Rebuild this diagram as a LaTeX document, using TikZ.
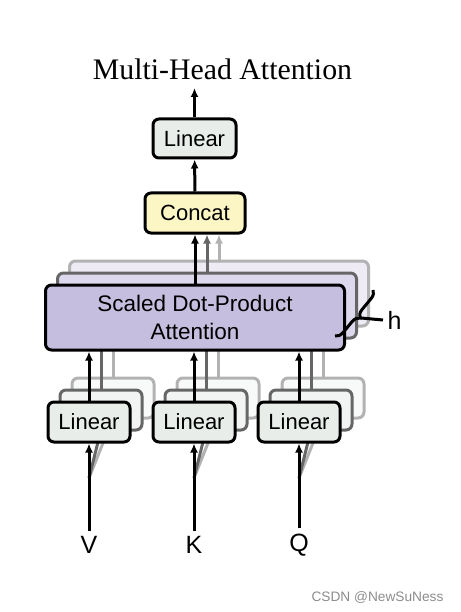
\documentclass[tikz,border=0pt]{standalone}
\usepackage{fontspec}
\setmainfont{Liberation Serif}
\setsansfont{Liberation Sans}
\usetikzlibrary{arrows.meta,decorations.pathreplacing}
\definecolor{lincol}{HTML}{E8EDEA}
\definecolor{catcol}{HTML}{FCF5C4}
\definecolor{sdpcol}{HTML}{C6BEDF}

\begin{document}
\begin{tikzpicture}[x=1pt, y=-1pt, line width=3pt, >={Latex[length=9pt,width=8pt]},
  box/.style = {draw, rounded corners=6pt, inner sep=0pt, align=center, font=\sffamily\fontsize{22}{27}\selectfont},
  lin/.style = {box, minimum width=82pt, minimum height=40pt, fill=lincol},
  sdp/.style = {box, minimum width=299pt, minimum height=65pt, fill=sdpcol, font=\sffamily\fontsize{22.5}{28}\selectfont},
  lbl/.style = {font=\sffamily\fontsize{25}{30}\selectfont, inner sep=4pt}]
\useasboundingbox (0,0) rectangle (460,612);
\node[font=\rmfamily\fontsize{29.8}{35}\selectfont] (title) at (222.5,69) {Multi-Head Attention};
\coordinate (out) at (194.5,88);
\node[lin, minimum width=83pt, minimum height=39pt] (lin) at (194.5,138.5) {Linear};
\node[box, fill=catcol, minimum width=100pt, minimum height=40pt] (concat) at (195,213) {Concat};
\draw[->] (lin) -- (out);
\draw[->] (concat) -- (lin);
% the h heads, back ones first
\foreach \n/\x in {V/89,K/194,Q/299} \coordinate (f\n) at (\x,478);
\foreach \k/\c in {2/30,1/60}{
  \begin{scope}[shift={(12*\k,-12*\k)}, black!\c]
    \node[sdp, fill=sdpcol!\c] (sdpa\k) at (195,317.5) {};
    \draw[->] (sdpa\k.north) -- (sdpa\k.north |- concat.south);
    \foreach \n/\x in {V/89,K/194,Q/299}{
      \draw[->] (f\n) -- (\x,442);
      \node[lin, fill=lincol!\c] (lin\n\k) at (\x,422) {};
      \draw[->] (lin\n\k) -- (lin\n\k |- sdpa\k.south);
    }
  \end{scope}
}
\node[sdp] (sdpa0) at (195,317.5) {Scaled Dot-Product\\Attention};
\draw[->] (sdpa0) -- (concat);
\foreach \n/\x in {V/89,K/194,Q/299}{
  \node[lin] (lin\n0) at (\x,422) {Linear};
  \draw[->] (lin\n0) -- (lin\n0 |- sdpa0.south);
  \node[lbl] (\n) at (\x,545) {\n};
  \draw[->] (\n.north) -- (lin\n0);
}
% brace for h
\draw[decorate, decoration={brace, amplitude=8pt}] (373,290) -- (335,336);
\coordinate (hb) at (361,318);
\node[lbl, anchor=west, inner sep=3pt] (h) at (383,320) {h};
\draw (hb) -- (h.west);
\node[font=\sffamily\fontsize{13.7}{16}\selectfont, text=black!45] (mark) at (377.5,597) {CSDN @NewSuNess};
\end{tikzpicture}
\end{document}
